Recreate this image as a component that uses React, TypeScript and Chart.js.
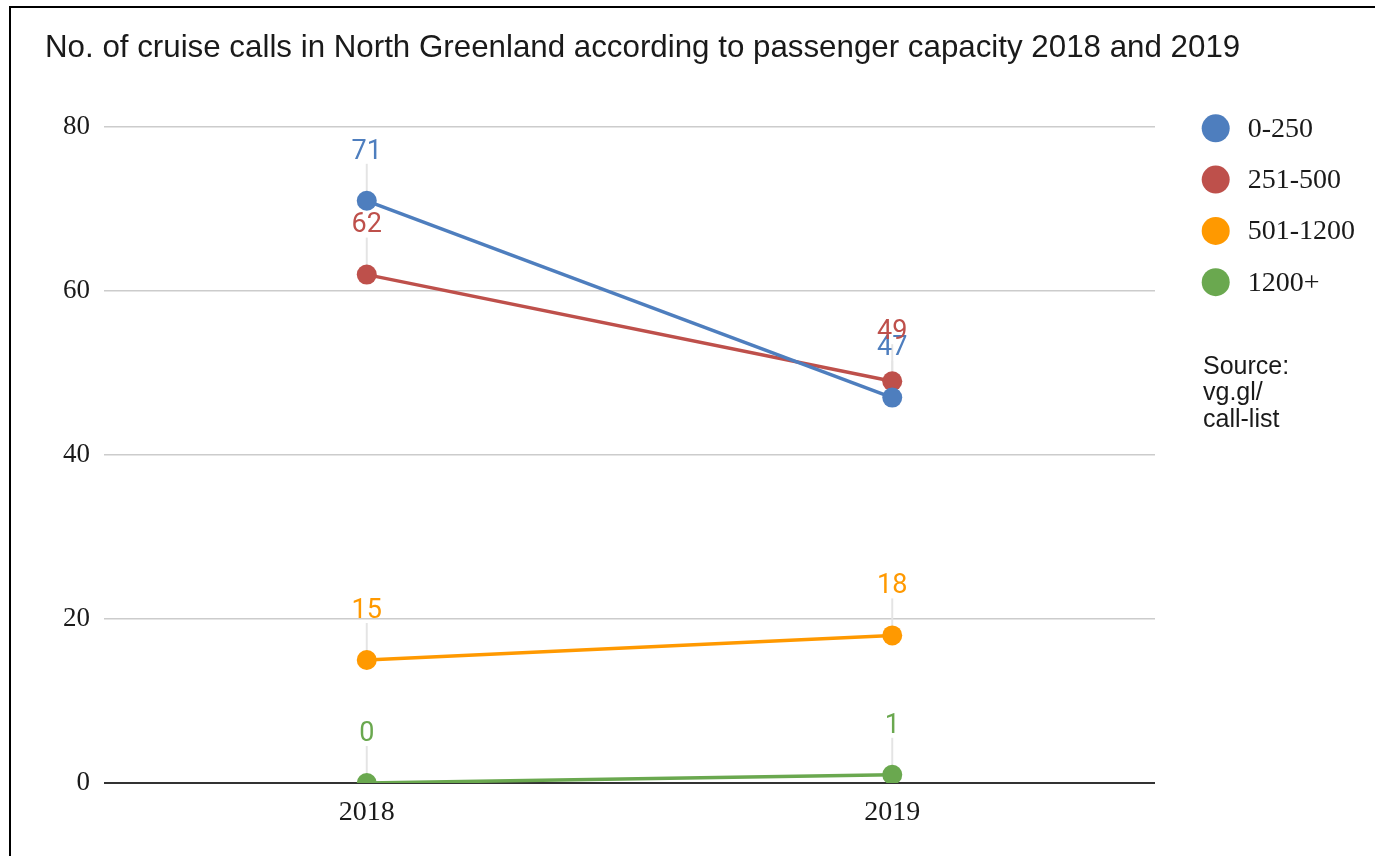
import React, { useEffect, useRef } from "react";
import { Chart, registerables } from "chart.js";

Chart.register(...registerables);

const titleText = "No. of cruise calls in North Greenland according to passenger capacity 2018 and 2019";
const categories = ["2018", "2019"];
const seriesNames = ["0-250", "251-500", "501-1200", "1200+"];
const seriesColors = ["#4e7ebe", "#be504b", "#ff9900", "#6aa84f"];
const calls0to250 = [71, 47];
const calls251to500 = [62, 49];
const calls501to1200 = [15, 18];
const calls1200plus = [0, 1];
const sourceLines = ["Source:", "vg.gl/", "call-list"];
const yMin = 0;
const yMax = 80;
const yStep = 20;

const seriesValues = [calls0to250, calls251to500, calls501to1200, calls1200plus];

const W = 1364;
const H = 848;
const SERIF = "'Liberation Serif', 'Times New Roman', serif";
const SANS = "'Liberation Sans', Arial, sans-serif";

const decorPlugin = {
  id: "decor",
  beforeDatasetsDraw(chart: any) {
    const ctx = chart.ctx;
    ctx.save();
    ctx.strokeStyle = "#e4e4e4";
    ctx.lineWidth = 2;
    chart.data.datasets.forEach((ds: any, i: number) => {
      const meta = chart.getDatasetMeta(i);
      meta.data.forEach((pt: any) => {
        ctx.beginPath();
        ctx.moveTo(pt.x, pt.y);
        ctx.lineTo(pt.x, pt.y - 37);
        ctx.stroke();
      });
    });
    ctx.restore();
  },
  afterDatasetsDraw(chart: any) {
    const ctx = chart.ctx;
    ctx.save();
    ctx.font = "27px Roboto, 'Noto Sans', sans-serif";
    ctx.textAlign = "center";
    ctx.textBaseline = "middle";
    chart.data.datasets.forEach((ds: any, i: number) => {
      const meta = chart.getDatasetMeta(i);
      meta.data.forEach((pt: any, j: number) => {
        ctx.fillStyle = ds.borderColor;
        ctx.fillText(String(ds.data[j]), pt.x, pt.y - 49);
      });
    });
    ctx.restore();
  },
  afterDraw(chart: any) {
    const ctx = chart.ctx;
    ctx.save();
    // title
    ctx.font = "31.3px " + SANS;
    ctx.fillStyle = "#1a1a1a";
    ctx.textAlign = "left";
    ctx.textBaseline = "middle";
    ctx.fillText(titleText, 34, 40);
    // legend
    chart.data.datasets.forEach((ds: any, i: number) => {
      const cy = 120.3 + i * 51.3;
      ctx.beginPath();
      ctx.fillStyle = ds.borderColor;
      ctx.arc(1204.7, cy, 14, 0, Math.PI * 2);
      ctx.fill();
      ctx.fillStyle = "#1a1a1a";
      ctx.font = "28px " + SERIF;
      ctx.fillText(ds.label, 1236.7, cy + 1);
    });
    // source
    ctx.font = "25px " + SANS;
    ctx.fillStyle = "#1a1a1a";
    sourceLines.forEach((line, k) => {
      ctx.fillText(line, 1192, 359 + k * 26.5);
    });
    ctx.restore();
  },
};

export default function App() {
  const ref = useRef<HTMLCanvasElement | null>(null);

  useEffect(() => {
    document.documentElement.style.overflow = "hidden";
    const canvas = ref.current;
    if (!canvas) return;
    const chart = new Chart(canvas, {
      type: "line",
      data: {
        labels: categories,
        datasets: seriesNames.map((name, i) => ({
          label: name,
          data: seriesValues[i],
          borderColor: seriesColors[i],
          backgroundColor: seriesColors[i],
          pointBackgroundColor: seriesColors[i],
          pointBorderWidth: 0,
          pointRadius: 10,
          borderWidth: 3.5,
          tension: 0,
        })),
      },
      options: {
        responsive: false,
        animation: false,
        devicePixelRatio: 1,
        layout: { padding: { left: 0, top: 119, right: 220, bottom: 0 } },
        plugins: {
          legend: { display: false },
          tooltip: { enabled: false },
          title: { display: false },
        },
        scales: {
          x: {
            offset: true,
            grid: { display: false, drawTicks: false },
            border: { display: false },
            ticks: {
              padding: 13,
              color: "#1a1a1a",
              font: { family: SERIF, size: 28 },
            },
            afterFit(scale: any) {
              scale.height = 73;
            },
          },
          y: {
            min: yMin,
            max: yMax,
            ticks: {
              stepSize: yStep,
              padding: 14,
              color: "#1a1a1a",
              font: { family: SERIF, size: 27 },
            },
            grid: {
              drawTicks: false,
              color: (c: any) => (c.tick && c.tick.value === 0 ? "#333333" : "#cccccc"),
              lineWidth: (c: any) => (c.tick && c.tick.value === 0 ? 2 : 1.5),
            },
            border: { display: false },
            afterFit(scale: any) {
              scale.width = 93;
            },
          },
        },
      },
      plugins: [decorPlugin],
    });
    return () => chart.destroy();
  }, []);

  return (
    <div
      style={{
        position: "fixed",
        top: 6,
        left: 9,
        border: "2px solid #000",
        width: W,
        height: H,
        background: "#fff",
      }}
    >
      <canvas ref={ref} width={W} height={H} style={{ display: "block", width: W, height: H }} />
    </div>
  );
}
